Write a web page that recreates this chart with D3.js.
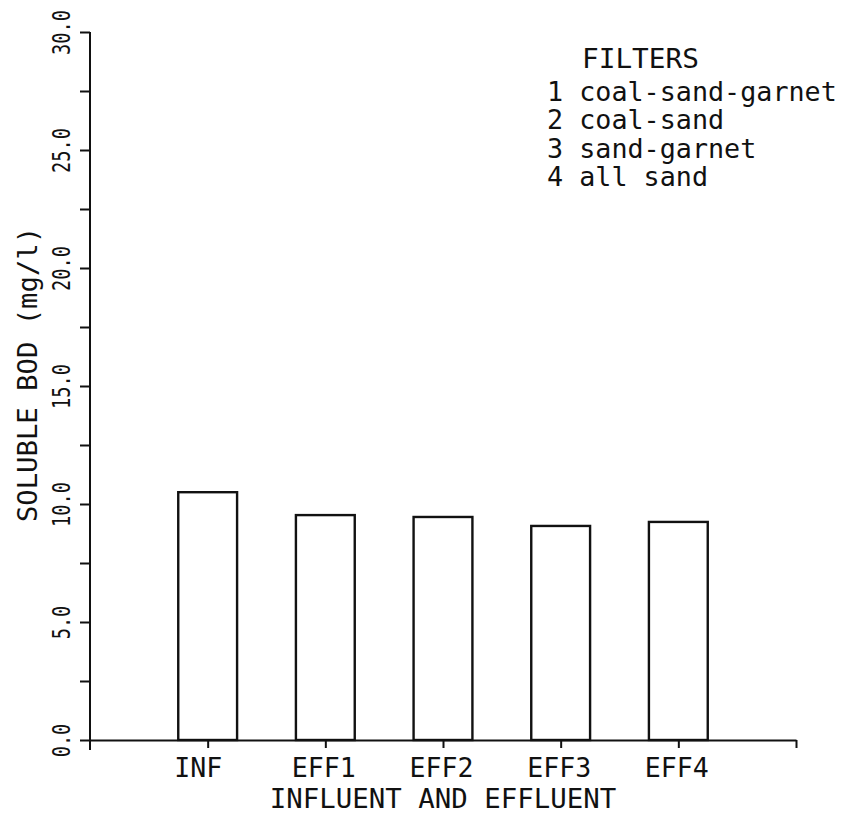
<!DOCTYPE html>
<html>
<head>
<meta charset="utf-8">
<script src="https://cdn.jsdelivr.net/npm/d3@7"></script>
<style>
  body { margin: 0; background: #fff; }
  text { font-family: "DejaVu Sans Mono", monospace; fill: #111; }
</style>
</head>
<body>
<svg id="chart"></svg>
<script>
// bar data
const categories = ["INF", "EFF1", "EFF2", "EFF3", "EFF4"];
const bod = [10.5, 9.53, 9.45, 9.07, 9.24];
const yTicks = [0, 2.5, 5, 7.5, 10, 12.5, 15, 17.5, 20, 22.5, 25, 27.5, 30];
const legendTitle = "FILTERS";
const filterIds = ["1", "2", "3", "4"];
const filterNames = ["coal-sand-garnet", "coal-sand", "sand-garnet", "all sand"];

const width = 864, height = 815;
const margin = { top: 32, right: 68, bottom: 75, left: 90 };

const svg = d3.select("#chart")
    .attr("width", width)
    .attr("height", height);

svg.append("rect").attr("width", width).attr("height", height).attr("fill", "#fff");

// categories sit at 1..5 on a 0..6 axis
const x = d3.scaleLinear().domain([0, 6]).range([margin.left, width - margin.right]);
const y = d3.scaleLinear().domain([0, 30]).range([height - margin.bottom, margin.top]);
const barW = x(0.5) - x(0);

// squeeze monospace text to the narrow plotter pitch
function pitch(sel, p) {
    sel.each(function () {
        const t = d3.select(this);
        const s = t.text();
        if (s.length) t.attr("textLength", s.length * p).attr("lengthAdjust", "spacingAndGlyphs");
    });
}

// bars
svg.append("g")
    .selectAll("rect")
    .data(bod)
    .join("rect")
    .attr("x", (d, i) => x(i + 1) - barW / 2)
    .attr("y", d => y(d))
    .attr("width", barW)
    .attr("height", d => y(0) - y(d))
    .attr("fill", "#fff")
    .attr("stroke", "#111")
    .attr("stroke-width", 2.4);

// y axis
const yAxis = svg.append("g")
    .attr("transform", `translate(${margin.left},0)`)
    .call(d3.axisLeft(y)
        .tickValues(yTicks)
        .tickSize(10)
        .tickSizeOuter(0)
        .tickFormat(d => d % 5 === 0 ? d.toFixed(1) : ""));
yAxis.select(".domain").remove();
yAxis.selectAll(".tick line").attr("stroke", "#111").attr("stroke-width", 2);
yAxis.selectAll(".tick text")
    .attr("x", 0)
    .attr("y", -20)
    .attr("dy", null)
    .attr("transform", "rotate(-90)")
    .attr("text-anchor", "middle")
    .style("font-size", "24px")
    .call(pitch, 11.2);
yAxis.append("line")
    .attr("y1", y(0) + 10)
    .attr("y2", y(30))
    .attr("stroke", "#111")
    .attr("stroke-width", 2);

// x axis
const xAxis = svg.append("g")
    .attr("transform", `translate(0,${y(0)})`)
    .call(d3.axisBottom(x)
        .tickValues([1, 2, 3, 4, 5, 6])
        .tickSize(8)
        .tickSizeOuter(0)
        .tickFormat(d => categories[d - 1] || ""));
xAxis.select(".domain").attr("stroke", "#111").attr("stroke-width", 2);
xAxis.selectAll(".tick line").attr("stroke", "#111").attr("stroke-width", 2);
xAxis.selectAll(".tick text")
    .attr("x", -34)
    .attr("y", 37)
    .attr("dy", null)
    .attr("text-anchor", "start")
    .style("font-size", "27px")
    .call(pitch, 16);

// axis titles
svg.append("text")
    .attr("x", x(3))
    .attr("y", 808)
    .attr("text-anchor", "middle")
    .style("font-size", "26px")
    .text("INFLUENT AND EFFLUENT")
    .call(pitch, 16.5);

svg.append("text")
    .attr("transform", `translate(37,${(227 + 522) / 2}) rotate(-90)`)
    .attr("text-anchor", "middle")
    .style("font-size", "26px")
    .text("SOLUBLE BOD (mg/l)")
    .call(pitch, 16.4);

// legend
const legend = svg.append("g");
legend.append("text")
    .attr("x", 582)
    .attr("y", 68)
    .style("font-size", "27px")
    .text(legendTitle)
    .call(pitch, 16.7);
legend.selectAll(".item")
    .data(filterNames)
    .join("text")
    .attr("class", "item")
    .attr("x", 547)
    .attr("y", (d, i) => 101 + i * 28.4)
    .style("font-size", "27px")
    .text((d, i) => filterIds[i] + " " + d)
    .call(pitch, 16.1);
</script>
</body>
</html>
